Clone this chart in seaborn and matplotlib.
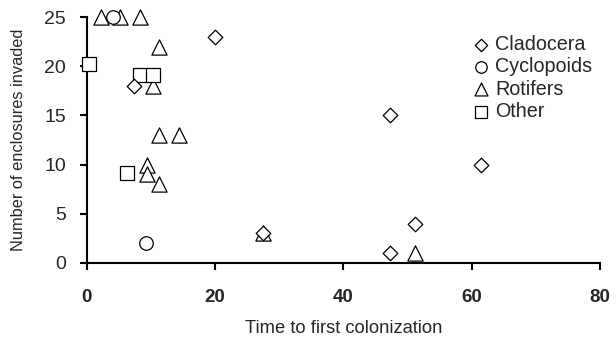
import matplotlib
matplotlib.use("Agg")
import matplotlib.pyplot as plt
import seaborn as sns
import pandas as pd

# Time to first colonization (x) and number of enclosures invaded (y) per taxon
cladocera_x = [7.3, 20.0, 47.3, 61.5, 51.2, 47.3, 27.5]
cladocera_y = [18, 23, 15, 10, 4, 1, 3]

cyclopoids_x = [4.1, 9.2]
cyclopoids_y = [25, 2]

rotifers_x = [2.2, 5.1, 8.3, 11.2, 10.3, 11.2, 14.4, 9.4, 9.4, 11.2, 27.5, 51.2]
rotifers_y = [25, 25, 25, 22, 18, 13, 13, 10, 9, 8, 3, 1]

other_x = [0.3, 8.3, 10.3, 6.2]
other_y = [20.2, 19.1, 19.1, 9.2]

groups = ["Cladocera", "Cyclopoids", "Rotifers", "Other"]
x_ticks = [0, 20, 40, 60, 80]
y_ticks = [0, 5, 10, 15, 20, 25]

frames = []
for name, xs, ys in [
    ("Rotifers", rotifers_x, rotifers_y),
    ("Other", other_x, other_y),
    ("Cyclopoids", cyclopoids_x, cyclopoids_y),
    ("Cladocera", cladocera_x, cladocera_y),
]:
    frames.append(pd.DataFrame({"time": xs, "invaded": ys, "group": name}))
df = pd.concat(frames, ignore_index=True)

sns.set_style("white")
plt.rcParams["font.family"] = ["Liberation Sans", "DejaVu Sans"]

fig = plt.figure(figsize=(6.16, 3.42), dpi=100)
ax = fig.add_axes([0.141, 0.231, 0.833, 0.719])

markers = {"Cladocera": "D", "Cyclopoids": "o", "Rotifers": "^", "Other": "s"}
sizes = {"Cladocera": 55, "Cyclopoids": 95, "Rotifers": 120, "Other": 110}

for g in ["Rotifers", "Other", "Cyclopoids", "Cladocera"]:
    sub = df[df["group"] == g]
    sns.scatterplot(
        data=sub, x="time", y="invaded", marker=markers[g], s=sizes[g],
        color="white", edgecolor="black", linewidth=0.9, ax=ax,
        clip_on=False, zorder=3, label=g,
    )

ax.set_xlim(0, 80)
ax.set_ylim(0, 25)
ax.set_xticks(x_ticks)
ax.set_yticks(y_ticks)
ax.set_xticklabels([str(t) for t in x_ticks], fontsize=13.5, fontweight="bold")
ax.set_yticklabels([str(t) for t in y_ticks], fontsize=14)

ax.set_xlabel("Time to first colonization", fontsize=13.2, labelpad=10)
ax.set_ylabel("Number of enclosures invaded", fontsize=11.8, labelpad=13)

for side in ["top", "right"]:
    ax.spines[side].set_visible(False)
for side in ["left", "bottom"]:
    ax.spines[side].set_color("black")
    ax.spines[side].set_linewidth(1.5)
ax.tick_params(axis="both", direction="out", length=5, width=1.5,
               color="black", left=True, bottom=True)
ax.tick_params(axis="x", pad=14)
ax.tick_params(axis="y", pad=10)

handles, labels = ax.get_legend_handles_labels()
order = [labels.index(g) for g in groups]
leg = ax.legend(
    [handles[i] for i in order], [labels[i] for i in order],
    loc="upper right", bbox_to_anchor=(1.0, 0.96), frameon=False,
    fontsize=14.2, handletextpad=0.15, labelspacing=0.17, borderaxespad=0,
    handlelength=1.1, markerscale=0.85,
)

fig.savefig("out.png", dpi=100)
